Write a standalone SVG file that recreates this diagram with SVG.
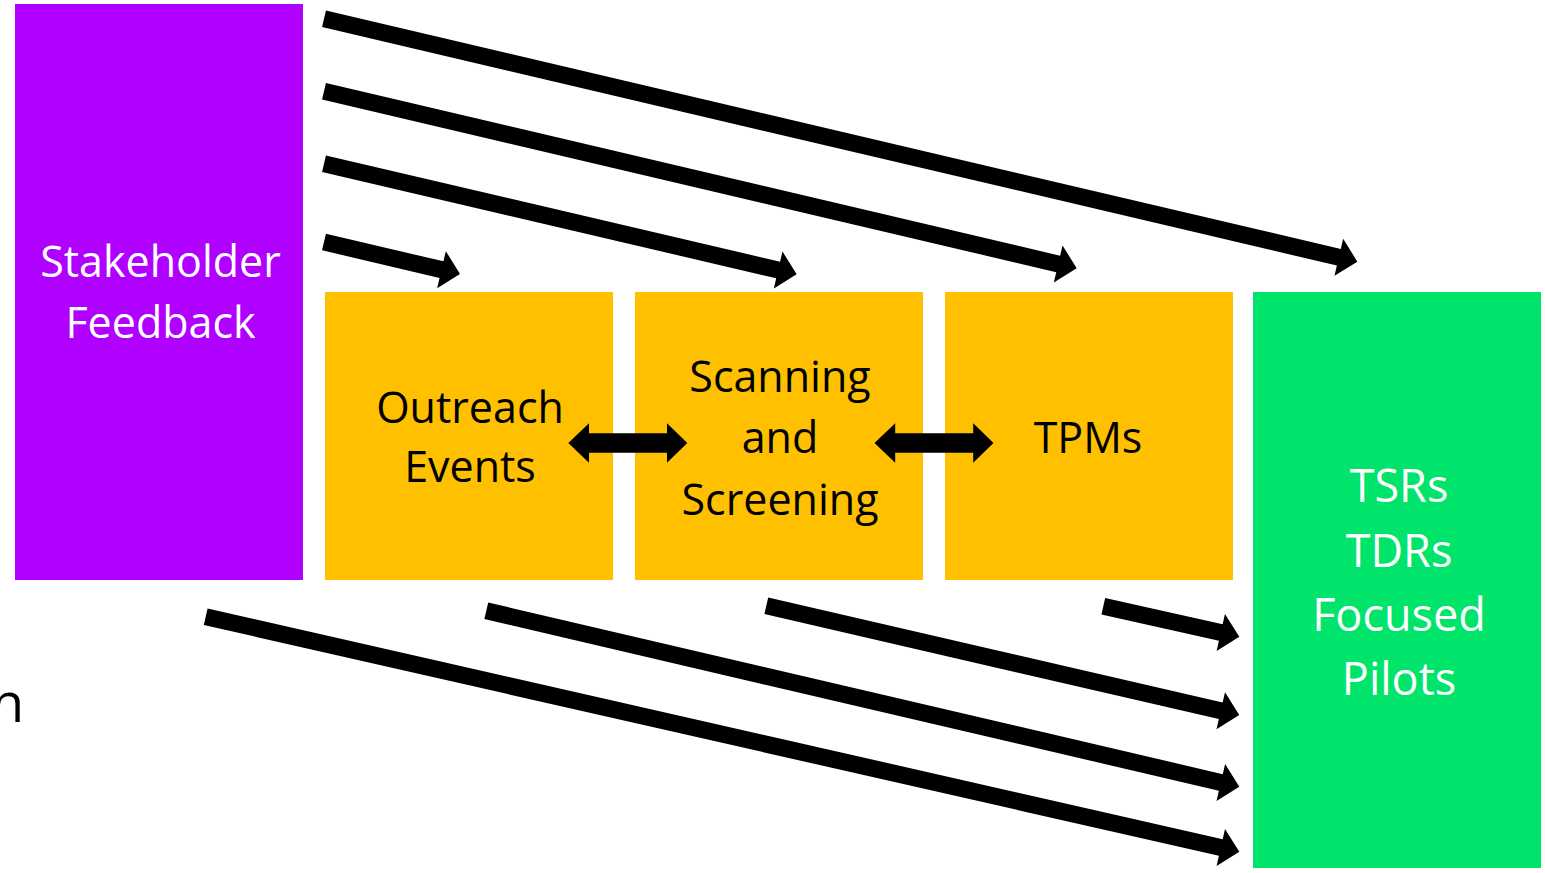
<svg xmlns="http://www.w3.org/2000/svg" width="1545" height="873" viewBox="0 0 1545 873">
<style>
.t{font-family:"Open Sans","Noto Sans","Liberation Sans",sans-serif;font-size:43px;text-anchor:middle}
.g{font-size:45px}
.w{fill:#FFFFFF}
.k{fill:#000000}
.arr{fill:#000000}
</style>
<rect width="1545" height="873" fill="#FFFFFF"/>
<g id="stakeholder-feedback">
<rect x="15" y="4" width="288" height="576" fill="#B000FF"/>
<text class="t w" x="160.5" y="277">Stakeholder</text>
<text class="t w" x="160.5" y="338">Feedback</text>
</g>
<g id="outreach-events">
<rect x="325" y="292" width="288" height="288" fill="#FFC000"/>
<text class="t k" x="470" y="423">Outreach</text>
<text class="t k" x="470" y="482">Events</text>
</g>
<g id="scanning-screening">
<rect x="635" y="292" width="288" height="288" fill="#FFC000"/>
<text class="t k" x="780" y="392">Scanning</text>
<text class="t k" x="780" y="453">and</text>
<text class="t k" x="780" y="515">Screening</text>
</g>
<g id="tpms">
<rect x="945" y="292" width="288" height="288" fill="#FFC000"/>
<text class="t k" x="1088" y="453">TPMs</text>
</g>
<g id="tsrs">
<rect x="1253" y="292" width="288" height="576" fill="#00E46C"/>
<text class="t w g" x="1399" y="502">TSRs</text>
<text class="t w g" x="1399" y="567">TDRs</text>
<text class="t w g" x="1399" y="631">Focused</text>
<text class="t w g" x="1399" y="695">Pilots</text>
</g>
<g id="cut-text">
<text class="t k" x="-9" y="722" style="font-size:54px;text-anchor:start">h</text>
</g>
<g id="connectors">
<path class="arr" transform="translate(324,18.7) rotate(13.23)" d="M0,-8.5 H1042.5 V-19 L1061.5,0 L1042.5,19 V8.5 H0 Z"/>
<path class="arr" transform="translate(324,91.3) rotate(13.23)" d="M0,-8.5 H754.2 V-19 L773.2,0 L754.2,19 V8.5 H0 Z"/>
<path class="arr" transform="translate(324,163.8) rotate(13.16)" d="M0,-8.5 H466.4 V-19 L485.4,0 L466.4,19 V8.5 H0 Z"/>
<path class="arr" transform="translate(324,242) rotate(13.24)" d="M0,-8.5 H120.7 V-19 L139.7,0 L120.7,19 V8.5 H0 Z"/>
<path class="arr" transform="translate(205.7,616.7) rotate(12.81)" d="M0,-8.5 H1041 V-19 L1060,0 L1041,19 V8.5 H0 Z"/>
<path class="arr" transform="translate(486.3,610.8) rotate(13.15)" d="M0,-8.5 H754.3 V-19 L773.3,0 L754.3,19 V8.5 H0 Z"/>
<path class="arr" transform="translate(766.3,605.8) rotate(13.0)" d="M0,-8.5 H466.4 V-19 L485.4,0 L466.4,19 V8.5 H0 Z"/>
<path class="arr" transform="translate(1103.3,606.2) rotate(12.64)" d="M0,-8.5 H120.4 V-19 L139.4,0 L120.4,19 V8.5 H0 Z"/>
<path class="arr" d="M568.3,443 L589,423.3 V433.3 H667 V423.3 L687.3,443 L667,462.7 V452.7 H589 V462.7 Z"/>
<path class="arr" d="M874.5,443 L895.2,423.3 V433.3 H973.2 V423.3 L993.5,443 L973.2,462.7 V452.7 H895.2 V462.7 Z"/>
</g>
</svg>
